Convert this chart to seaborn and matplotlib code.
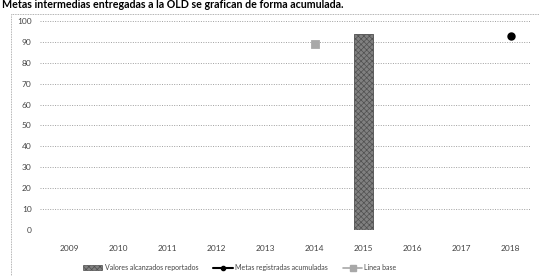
import numpy as np
import pandas as pd
import matplotlib
matplotlib.use("Agg")
import matplotlib.pyplot as plt
import matplotlib.patches as mpatches
from matplotlib.lines import Line2D
import seaborn as sns

years = ["2009", "2010", "2011", "2012", "2013", "2014", "2015", "2016", "2017", "2018"]
valores_years = ["2015"]
valores = [94]
metas_years = ["2018"]
metas = [93]
base_years = ["2014"]
base = [89]

titulo = "Metas intermedias entregadas a la OLD se grafican de forma acumulada."
lbl_valores = "Valores alcanzados reportados"
lbl_metas = "Metas registradas acumuladas"
lbl_base = "Línea base"

sns.set_style("white")
plt.rcParams["font.family"] = ["Lato", "DejaVu Sans"]
plt.rcParams["hatch.linewidth"] = 0.5

fig = plt.figure(figsize=(5.39, 2.76), dpi=100)
ax = fig.add_axes([0.074, 0.167, 0.91, 0.757])

df_val = pd.DataFrame({"anio": valores_years, "valor": valores})
sns.barplot(data=df_val, x="anio", y="valor", order=years, ax=ax,
            color="#808080", width=0.38, edgecolor="#505050", linewidth=0.6,
            hatch="xxxxxx", errorbar=None, zorder=3)

df_meta = pd.DataFrame({"anio": metas_years, "valor": metas})
sns.pointplot(data=df_meta, x="anio", y="valor", order=years, ax=ax,
              color="black", markers="o", errorbar=None, markersize=4, zorder=4)

df_base = pd.DataFrame({"anio": base_years, "valor": base})
sns.pointplot(data=df_base, x="anio", y="valor", order=years, ax=ax,
              color="#a8a8a8", markers="s", errorbar=None, markersize=5, zorder=4)

ax.set_ylim(0, 100)
ax.set_xlim(-0.6, 9.4)
ax.set_yticks(range(0, 101, 10))
ax.yaxis.grid(True, linestyle=(0, (1, 1.5)), color="#a0a0a0", linewidth=0.7)
ax.set_axisbelow(True)
for s in ax.spines.values():
    s.set_visible(False)
ax.set_xlabel("")
ax.set_ylabel("")
ax.tick_params(axis="both", length=0, labelsize=6, labelcolor="#444444", pad=6)
ax.tick_params(axis="x", pad=11)

handles = [
    mpatches.Patch(facecolor="#808080", edgecolor="#505050", hatch="xxxxxx", linewidth=0.5),
    Line2D([], [], color="black", marker="o", markersize=3, linewidth=1.5),
    Line2D([], [], color="#a8a8a8", marker="s", markersize=4, linewidth=1.2),
]
fig.legend(handles, [lbl_valores, lbl_metas, lbl_base], loc="center",
           bbox_to_anchor=(0.445, 0.03), ncol=3, frameon=False, fontsize=5,
           handlelength=2.8, columnspacing=2.2, handletextpad=0.3,
           labelcolor="#444444")

fig.text(0.003, 0.972, titulo, ha="left", va="baseline", fontsize=7.7,
         fontweight="bold", color="black")

fig.add_artist(Line2D([0.02, 0.02], [0.0, 0.95], transform=fig.transFigure,
                      color="#999999", linestyle=(0, (1, 1)), linewidth=0.6))
fig.add_artist(Line2D([0.02, 1.0], [0.95, 0.95], transform=fig.transFigure,
                      color="#999999", linestyle=(0, (1, 1)), linewidth=0.6))

fig.savefig("out.png", dpi=100)
